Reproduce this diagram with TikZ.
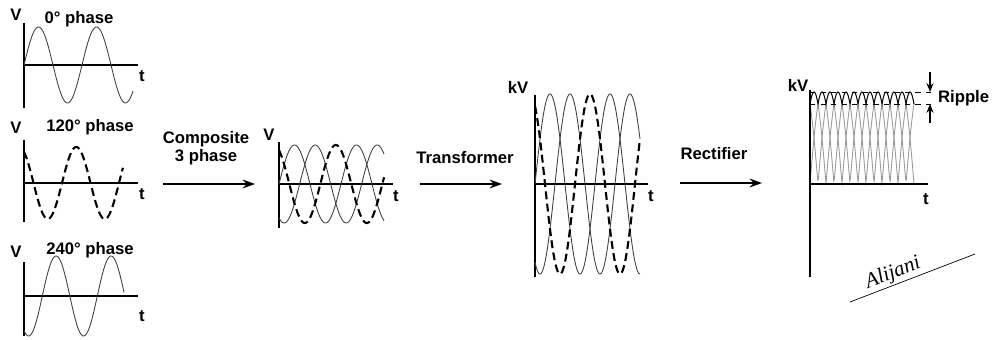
\documentclass[tikz,border=0pt]{standalone}
\usepackage{fontspec}
\setmainfont{Liberation Sans}
\newfontfamily\signfont{Liberation Serif}
\usetikzlibrary{arrows.meta}

\begin{document}
\begin{tikzpicture}[x=0.02cm,y=-0.02cm,
  lbl/.style={font=\fontsize{9.5}{10.5}\selectfont\bfseries},
  axis/.style={line width=0.9pt},
  wave/.style={line width=0.5pt,black!75},
  dwave/.style={line width=1.2pt,dash pattern=on 4.5pt off 2.5pt},
  pulse/.style={line width=0.5pt,black!40},
  flow/.style={line width=1.1pt,-{Stealth[length=7pt,width=5pt]}},
  ripmark/.style={line width=0.7pt,-{Stealth[length=5pt,width=4pt]}}]
  \useasboundingbox (0,0) rectangle (994,340);

  \draw[axis] (24,23) -- (24,108);
  \draw[axis] (24,65) -- (138,65);
  \node[lbl] (v1) at (16,15) {V};
  \node[lbl] (t1) at (142,76) {t};
  \node[lbl] (ph1) at (79,19) {0° phase};
  \draw[wave] plot[domain=0:677,samples=120] ({24+\x/360*58},{65-38*sin(\x)});

  \draw[axis] (24,140) -- (24,222);
  \draw[axis] (24,183) -- (138,183);
  \node[lbl] (v2) at (16,128) {V};
  \node[lbl] (t2) at (142,194) {t};
  \node[lbl] (ph2) at (90,127) {120° phase};
  \draw[dwave] plot[domain=0:625,samples=120] ({24+\x/360*57},{183-36*sin(\x+120)});

  \draw[axis] (24,262) -- (24,336);
  \draw[axis] (24,296) -- (138,296);
  \node[lbl] (v3) at (16,252) {V};
  \node[lbl] (t3) at (142,316) {t};
  \node[lbl] (ph3) at (90,250) {240° phase};
  \draw[wave] plot[domain=0:655,samples=120] ({24+\x/360*55},{296-40*sin(\x+240)});

  \node[lbl,align=center] (comp) at (206,148) {Composite\\3 phase};
  \coordinate (c1s) at (163,184);
  \coordinate (c1e) at (255,184);
  \draw[flow] (c1s) -- (c1e);

  \draw[axis] (279,142) -- (279,228);
  \draw[axis] (279,184) -- (393,184);
  \node[lbl] (v4) at (269,135) {V};
  \node[lbl] (t4) at (396,196) {t};
  \draw[wave] plot[domain=0:610,samples=120] ({279+\x/360*62},{184-39*sin(\x)});
  \draw[wave] plot[domain=0:610,samples=120] ({279+\x/360*62},{184-39*sin(\x+240)});
  \draw[dwave] plot[domain=0:610,samples=120] ({279+\x/360*62},{184-39*sin(\x+120)});

  \node[lbl] (trans) at (465,158) {Transformer};
  \coordinate (c2s) at (420,184);
  \coordinate (c2e) at (502,184);
  \draw[flow] (c2s) -- (c2e);

  \draw[axis] (535,95) -- (535,277);
  \draw[axis] (535,184) -- (648,184);
  \node[lbl] (v5) at (518,87) {kV};
  \node[lbl] (t5) at (651,196) {t};
  \draw[wave] plot[domain=0:630,samples=150] ({535+\x/360*60},{184-90*sin(\x)});
  \draw[wave] plot[domain=0:630,samples=150] ({535+\x/360*60},{184-90*sin(\x+240)});
  \draw[dwave] plot[domain=0:630,samples=150] ({535+\x/360*60},{184-90*sin(\x+120)});

  \node[lbl] (rect) at (714,154) {Rectifier};
  \coordinate (c3s) at (680,183);
  \coordinate (c3e) at (762,183);
  \draw[flow] (c3s) -- (c3e);

  \foreach \k in {0,120,240}
    \draw[pulse] plot[domain=0:780,samples=150] ({810+\x/360*48},{184-92*abs(sin(\x+\k))});
  \draw[wave,black] plot[domain=0:780,samples=300] ({810+\x/360*48},{184-92*max(abs(sin(\x)),abs(sin(\x+120)),abs(sin(\x+240)))});
  \draw[axis] (810,90) -- (810,277);
  \draw[axis] (810,184) -- (928,184);
  \node[lbl] (v6) at (798,85) {kV};
  \node[lbl] (t6) at (926,199) {t};
  \draw[dashed,line width=0.5pt] (810,92) -- (935,92);
  \draw[dashed,line width=0.5pt] (810,104) -- (935,104);
  \coordinate (rtop) at (930,92);
  \coordinate (rbot) at (930,104);
  \coordinate (rtopa) at (930,72);
  \coordinate (rbota) at (930,123);
  \draw[ripmark] (rtopa) -- (rtop);
  \draw[ripmark] (rbota) -- (rbot);
  \node[lbl,anchor=west,inner sep=1pt] (rip) at (936,98) {Ripple};

  \draw[line width=0.4pt] (850,302) -- (975,254);
  \node[rotate=21,inner sep=1pt,font=\signfont\itshape\fontsize{12}{12}\selectfont] (sign) at (893,273) {Alijani};
\end{tikzpicture}
\end{document}
